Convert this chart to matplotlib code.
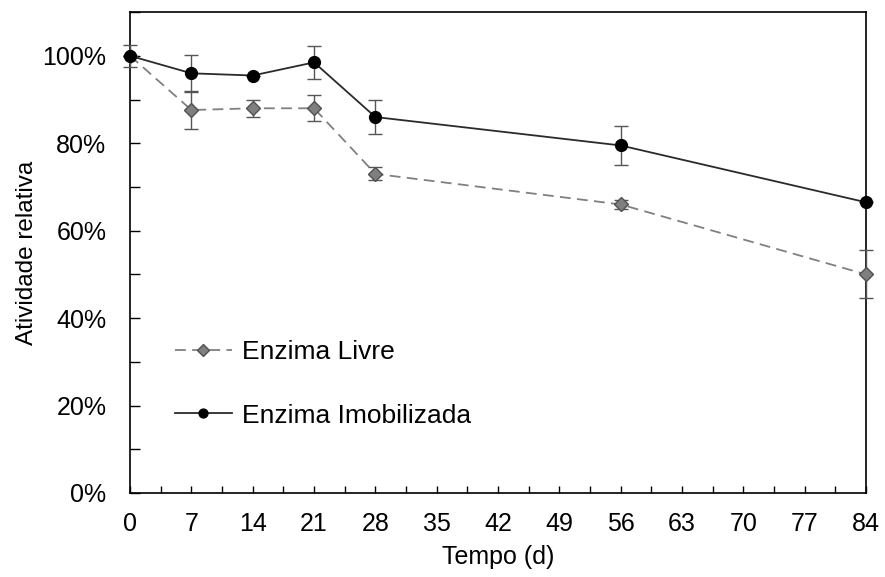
import numpy as np
import matplotlib.pyplot as plt
from matplotlib.ticker import MultipleLocator, PercentFormatter

plt.rcParams['font.family'] = ['Liberation Sans', 'DejaVu Sans']

# data
dias = [0, 7, 14, 21, 28, 56, 84]
livre = [100, 87.6, 88, 88, 73, 66, 50]
livre_err = [0, 4.4, 2.0, 3.0, 1.5, 1.0, 5.5]
imob = [100, 96, 95.5, 98.5, 86, 79.5, 66.5]
imob_err = [2.5, 4.3, 0, 3.8, 3.9, 4.5, 0]

fig = plt.figure(figsize=(8.85, 5.77), dpi=100)
ax = fig.add_axes([0.147, 0.1456, 0.8315, 0.8334])

c1 = ax.errorbar(dias, livre, yerr=livre_err, color='#808080', ls=(0, (6, 3.5)), lw=1.3,
                 marker='D', ms=7.5, mfc='#7f7f7f', mec='#505050', mew=1, ecolor='#555555',
                 elinewidth=1, capsize=4.7, capthick=1, clip_on=False, zorder=3)
c2 = ax.errorbar(dias, imob, yerr=imob_err, color='#2a2a2a', ls='-', lw=1.3,
                 marker='o', ms=8.5, mfc='black', mec='black', ecolor='#555555',
                 elinewidth=1, capsize=4.7, capthick=1, clip_on=False, zorder=4)

ax.set_xlim(0, 84)
ax.set_ylim(0, 110)
ax.xaxis.set_major_locator(MultipleLocator(7))
ax.xaxis.set_minor_locator(MultipleLocator(3.5))
ax.yaxis.set_major_locator(MultipleLocator(20))
ax.yaxis.set_minor_locator(MultipleLocator(10))
ax.yaxis.set_major_formatter(PercentFormatter(decimals=0))
ax.set_yticks([0, 20, 40, 60, 80, 100])
ax.tick_params(axis='y', which='both', direction='in', length=7, width=1, labelsize=18, pad=17)
ax.tick_params(axis='x', which='both', direction='in', length=5, width=1, labelsize=18, pad=14)
for s in ax.spines.values():
    s.set_linewidth(1.2)

ax.set_xlabel('Tempo (d)', fontsize=18, labelpad=6)
ax.set_ylabel('Atividade relativa', fontsize=17.5, labelpad=3)

# legend without error bars
h1 = c1.lines[0]
h2 = c2.lines[0]
leg = ax.legend([h1, h2], ['Enzima Livre', 'Enzima Imobilizada'],
                loc='center left', bbox_to_anchor=(0.061, 0.227), frameon=False, fontsize=19,
                handlelength=2.15, handletextpad=0.4, labelspacing=1.5,
                borderaxespad=0, borderpad=0, markerscale=0.75)

fig.savefig('out.png', dpi=100)
